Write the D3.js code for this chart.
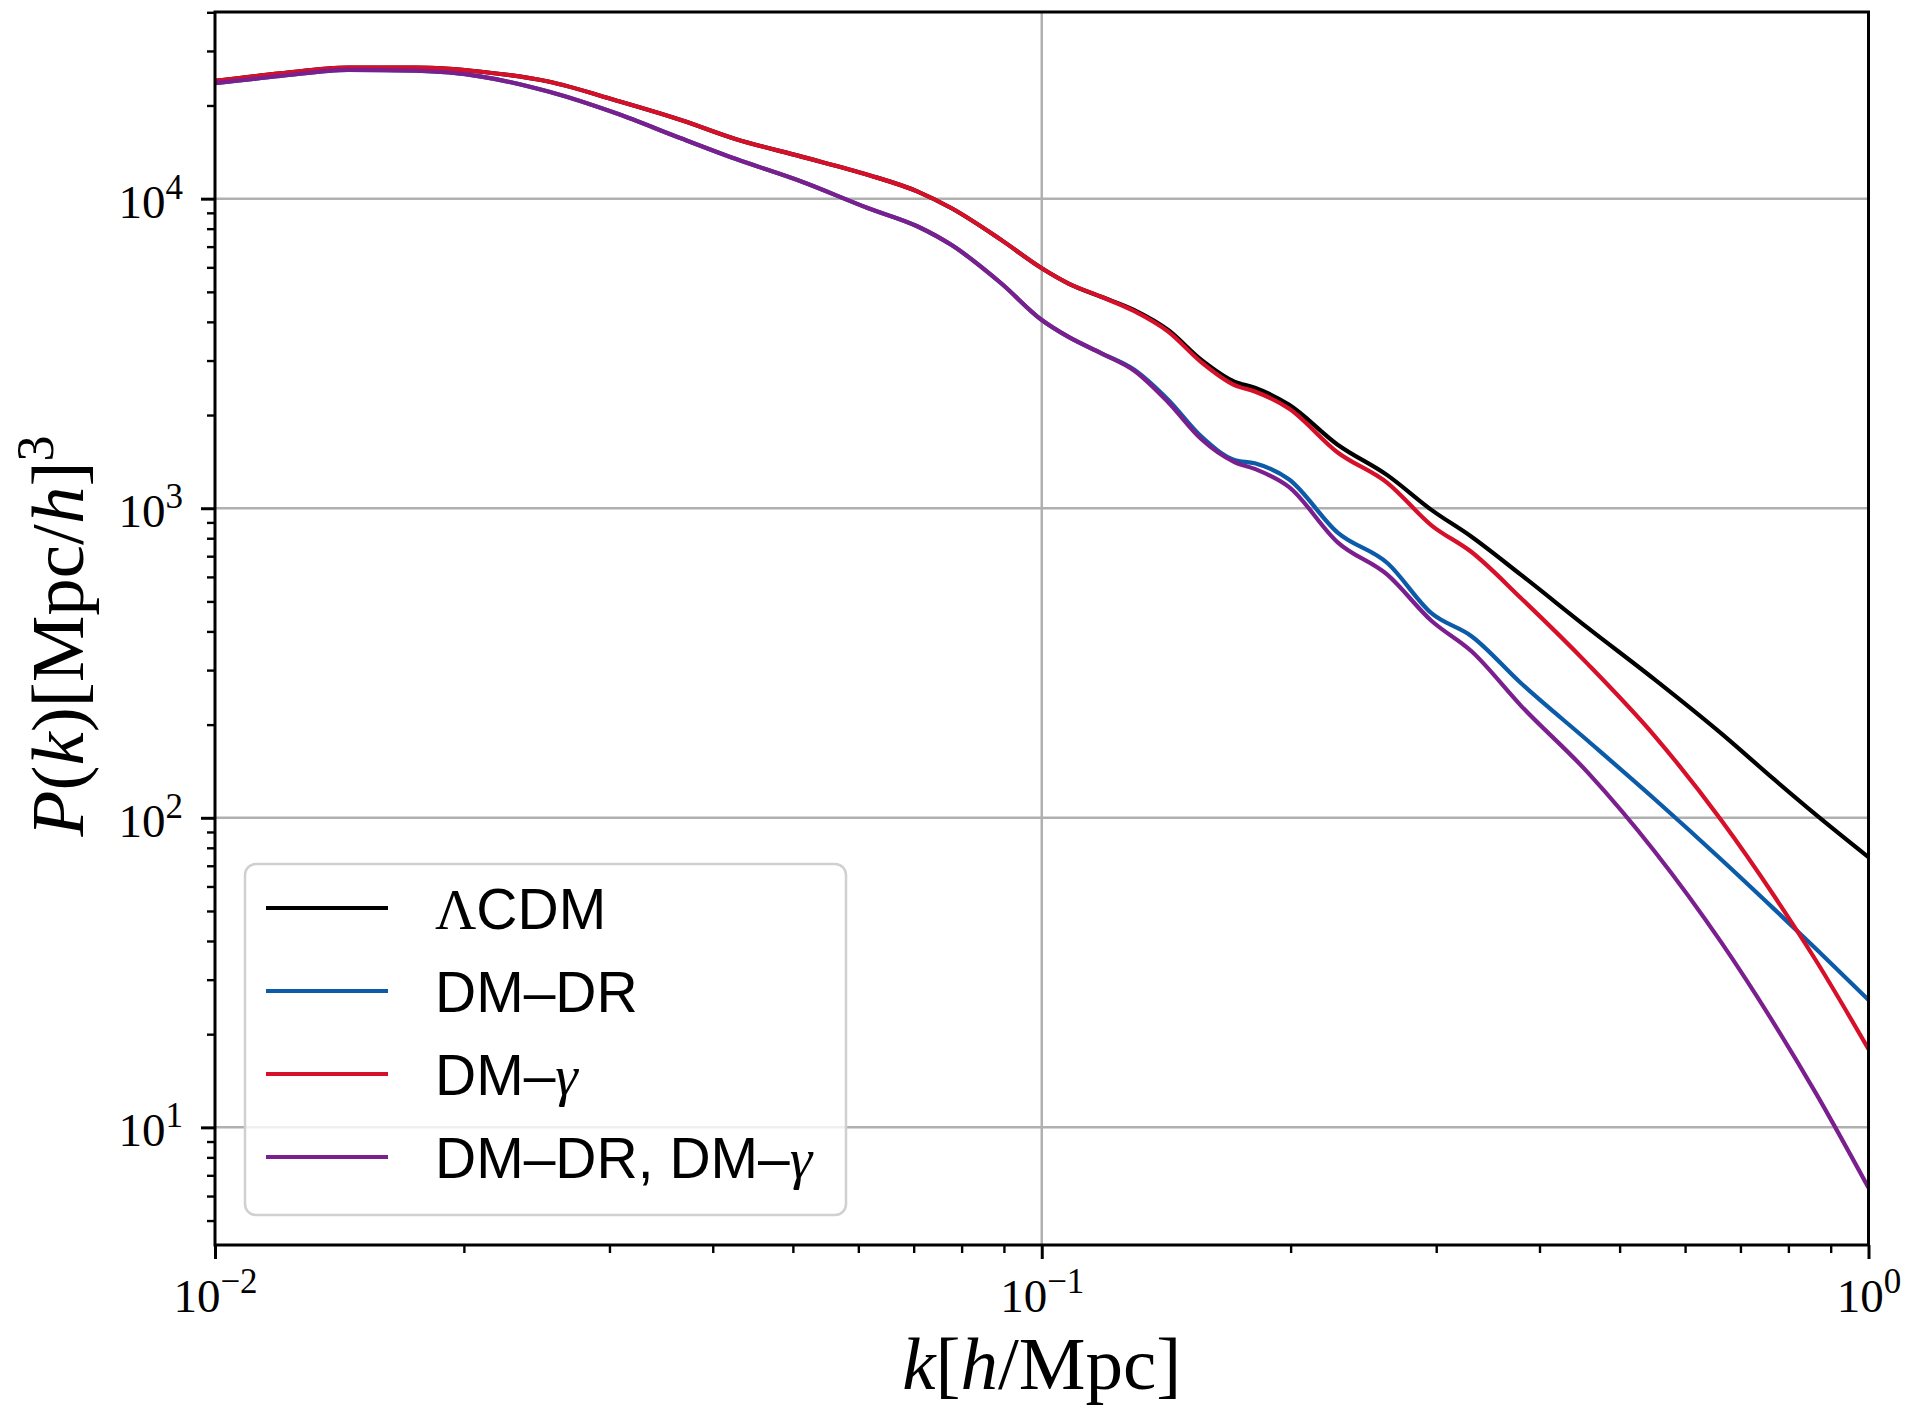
<!DOCTYPE html>
<html>
<head>
<meta charset="utf-8">
<script src="https://cdn.jsdelivr.net/npm/d3@7/dist/d3.min.js"></script>
<style>
  body { margin: 0; background: #ffffff; }
  svg { display: block; }
</style>
</head>
<body>
<svg id="chart" width="1911" height="1408"></svg>
<script>
// wavenumbers k [h/Mpc]
var kValues = [0.01, 0.012, 0.0145, 0.0175, 0.021, 0.0253, 0.0305, 0.0366, 0.0426, 0.0512,
               0.0617, 0.0708, 0.0778, 0.0893, 0.1, 0.1076, 0.118, 0.1294, 0.1422, 0.156,
               0.171, 0.181, 0.199, 0.228, 0.262, 0.296, 0.331, 0.38, 0.458, 0.551,
               0.664, 0.769, 0.865, 1.0];

// P(k) [Mpc/h]^3 for each model
var pLCDM = [24000, 25400, 26500, 26500, 25700, 23900, 20800, 17960, 15600, 13670,
             11930, 10540, 9310, 7360, 5960, 5330, 4820, 4366, 3764, 3013,
             2563, 2450, 2161, 1604, 1277, 988, 809, 609, 410, 280,
             187, 133, 102, 74.6];
var pDMDR = [23600, 24900, 26060, 25900, 24800, 22180, 18900, 15670, 13450, 11360,
             9310, 8130, 7080, 5330, 4055, 3582, 3167, 2800, 2240, 1703,
             1432, 1397, 1241, 834, 664, 458, 386, 272, 177, 115,
             73.2, 50.7, 37.6, 25.8];
var pDMgamma = [24000, 25400, 26500, 26500, 25700, 23900, 20800, 17960, 15600, 13670,
                11930, 10540, 9310, 7360, 5960, 5330, 4820, 4330, 3720, 2960,
                2500, 2383, 2100, 1514, 1206, 881, 722, 512, 313, 184,
                98, 55.9, 34.4, 17.9];
var pBoth = [23600, 24900, 26060, 25900, 24800, 22180, 18900, 15670, 13450, 11360,
             9310, 8130, 7080, 5330, 4055, 3582, 3167, 2780, 2200, 1670,
             1410, 1340, 1172, 776, 609, 433, 345, 230, 139.7, 78,
             39.5, 21.6, 12.8, 6.38];

var seriesNames = ["ΛCDM", "DM–DR", "DM–γ", "DM–DR, DM–γ"];
var seriesColors = ["#000000", "#0b5ba9", "#d7102a", "#7b1f8f"];

// tick labels
var xMajor = [0.01, 0.1, 1];
var xExponents = ["−2", "−1", "0"];
var yMajor = [10, 100, 1000, 10000];
var yExponents = ["1", "2", "3", "4"];

var serif = "'Liberation Serif', 'DejaVu Serif', serif";
var sans = "'Liberation Sans', Arial, sans-serif";

var margin = {top: 12, right: 42.5, bottom: 163, left: 215};
var width = 1911, height = 1408;
var plotW = width - margin.left - margin.right;
var plotH = height - margin.top - margin.bottom;

var svg = d3.select("#chart");
var g = svg.append("g").attr("transform", "translate(" + margin.left + "," + margin.top + ")");

var x = d3.scaleLog().domain([0.01, 1]).range([0, plotW]);
var y = d3.scaleLog().domain([Math.pow(10, 0.62), Math.pow(10, 4.603)]).range([plotH, 0]);

// minor tick positions (2..9 in every decade that is on screen)
function minorTicks(scale){
  var d = scale.domain(), out = [];
  for (var e = Math.floor(Math.log10(d[0])); e <= Math.ceil(Math.log10(d[1])); e++){
    for (var m = 2; m < 10; m++){
      var v = m * Math.pow(10, e);
      if (v >= d[0] * 0.9999 && v <= d[1] * 1.0001) out.push(v);
    }
  }
  return out;
}

// grid
g.append("g").selectAll("line.gx")
  .data([0.1])
  .enter().append("line")
  .attr("x1", function(d){ return x(d); })
  .attr("x2", function(d){ return x(d); })
  .attr("y1", 0).attr("y2", plotH)
  .style("stroke", "#b0b0b0").style("stroke-width", 2.5);

g.append("g").selectAll("line.gy")
  .data(yMajor)
  .enter().append("line")
  .attr("x1", 0).attr("x2", plotW)
  .attr("y1", function(d){ return y(d); })
  .attr("y2", function(d){ return y(d); })
  .style("stroke", "#b0b0b0").style("stroke-width", 2.5);

// curves
svg.append("clipPath").attr("id", "clip")
  .append("rect").attr("width", plotW).attr("height", plotH);

var allSeries = [pLCDM, pDMDR, pDMgamma, pBoth];
var line = d3.line()
  .x(function(d){ return x(d[0]); })
  .y(function(d){ return y(d[1]); })
  .curve(d3.curveMonotoneX);

g.append("g").attr("clip-path", "url(#clip)")
  .selectAll("path")
  .data(allSeries)
  .enter().append("path")
  .attr("d", function(s){
    return line(kValues.map(function(k, i){ return [k, s[i]]; }));
  })
  .style("fill", "none")
  .style("stroke", function(d, i){ return seriesColors[i]; })
  .style("stroke-width", 4.2)
  .style("stroke-linejoin", "round");

// axes: ticks only, spines drawn separately
var xAxis = g.append("g").attr("transform", "translate(0," + plotH + ")")
  .call(d3.axisBottom(x).tickValues(xMajor).tickSize(14).tickFormat(""));
g.append("g").attr("transform", "translate(0," + plotH + ")")
  .call(d3.axisBottom(x).tickValues(minorTicks(x)).tickSize(8).tickFormat(""))
  .selectAll("line").style("stroke-width", 2.4);

var yAxis = g.append("g")
  .call(d3.axisLeft(y).tickValues(yMajor).tickSize(14).tickFormat(""));
g.append("g")
  .call(d3.axisLeft(y).tickValues(minorTicks(y)).tickSize(8).tickFormat(""))
  .selectAll("line").style("stroke-width", 2.4);

g.selectAll(".domain").remove();
xAxis.selectAll("line").style("stroke-width", 3);
yAxis.selectAll("line").style("stroke-width", 3);

// 10^n labels
xAxis.selectAll(".tick").each(function(d, i){
  var t = d3.select(this).append("text")
    .attr("y", 66.5)
    .attr("text-anchor", "middle")
    .style("font-family", serif)
    .style("fill", "#000");
  t.append("tspan").style("font-size", "47px").text("10");
  t.append("tspan").attr("dy", -19).style("font-size", "35px").text(xExponents[i]);
});

yAxis.selectAll(".tick").each(function(d, i){
  var t = d3.select(this).append("text")
    .attr("x", -32)
    .attr("y", 18.5)
    .attr("text-anchor", "end")
    .style("font-family", serif)
    .style("fill", "#000");
  t.append("tspan").style("font-size", "47px").text("10");
  t.append("tspan").attr("dy", -19).style("font-size", "35px").text(yExponents[i]);
});

// frame
g.append("rect")
  .attr("width", plotW).attr("height", plotH)
  .style("fill", "none").style("stroke", "#000").style("stroke-width", 3);

// axis labels
var xl = svg.append("text")
  .attr("x", margin.left + plotW / 2)
  .attr("y", 1389)
  .attr("text-anchor", "middle")
  .style("font-family", serif).style("font-size", "75px");
xl.append("tspan").style("font-style", "italic").text("k");
xl.append("tspan").text("[");
xl.append("tspan").style("font-style", "italic").text("h");
xl.append("tspan").text("/Mpc]");

var yl = svg.append("text")
  .attr("transform", "translate(83,636) rotate(-90)")
  .attr("text-anchor", "middle")
  .style("font-family", serif).style("font-size", "75px");
yl.append("tspan").style("font-style", "italic").text("P");
yl.append("tspan").text("(");
yl.append("tspan").style("font-style", "italic").text("k");
yl.append("tspan").text(")[Mpc/");
yl.append("tspan").style("font-style", "italic").text("h");
yl.append("tspan").text("]");
yl.append("tspan").attr("dy", -30).style("font-size", "52px").text("3");

// legend
var legend = svg.append("g").attr("class", "legend");
legend.append("rect")
  .attr("x", 245).attr("y", 864)
  .attr("width", 601).attr("height", 351)
  .attr("rx", 11).attr("ry", 11)
  .style("fill", "#fff").style("fill-opacity", 0.8)
  .style("stroke", "#d0d0d0").style("stroke-width", 2.5);

var rowY = d3.scaleLinear().domain([0, 3]).range([908, 1157]);

seriesNames.forEach(function(name, i){
  legend.append("line")
    .attr("x1", 266).attr("x2", 388)
    .attr("y1", rowY(i)).attr("y2", rowY(i))
    .style("stroke", seriesColors[i]).style("stroke-width", 4.2);

  var t = legend.append("text")
    .attr("x", 435).attr("y", rowY(i) + 20.5)
    .style("font-size", "57px").style("fill", "#000");
  // greek letters come from the serif (math) font
  name.split("").forEach(function(c){
    var span = t.append("tspan").text(c);
    if (c == "Λ"){
      span.style("font-family", serif);
    } else if (c == "γ"){
      span.style("font-family", serif).style("font-style", "italic");
    } else {
      span.style("font-family", sans);
    }
  });
});
</script>
</body>
</html>
